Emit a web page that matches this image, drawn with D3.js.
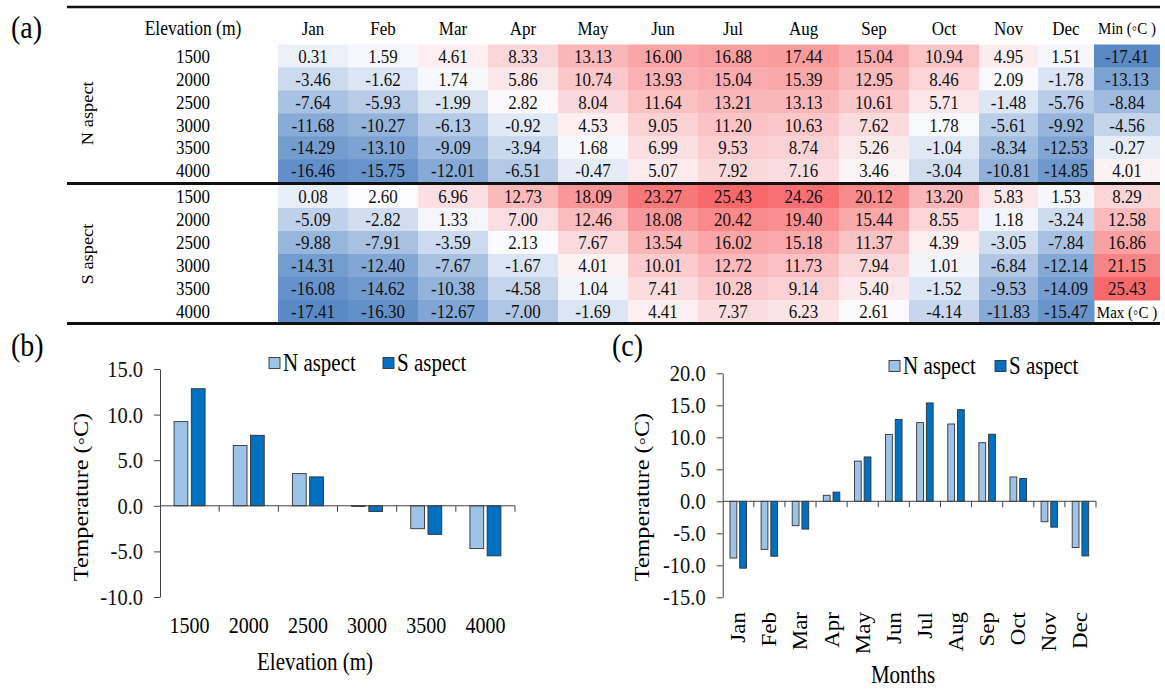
<!DOCTYPE html>
<html>
<head>
<meta charset="utf-8">
<script src="https://cdn.jsdelivr.net/npm/d3@7"></script>
<style>
  body { margin: 0; background: #fff; }
  svg, svg text { font-family: "Liberation Serif", "Times New Roman", serif; }
</style>
</head>
<body>
<div id="chart"></div>
<script>
// table data, (a)
var months = ["Jan","Feb","Mar","Apr","May","Jun","Jul","Aug","Sep","Oct","Nov","Dec"];
var elevations = ["1500","2000","2500","3000","3500","4000"];

var nTable = [
  [0.31, 1.59, 4.61, 8.33, 13.13, 16.00, 16.88, 17.44, 15.04, 10.94, 4.95, 1.51],
  [-3.46, -1.62, 1.74, 5.86, 10.74, 13.93, 15.04, 15.39, 12.95, 8.46, 2.09, -1.78],
  [-7.64, -5.93, -1.99, 2.82, 8.04, 11.64, 13.21, 13.13, 10.61, 5.71, -1.48, -5.76],
  [-11.68, -10.27, -6.13, -0.92, 4.53, 9.05, 11.20, 10.63, 7.62, 1.78, -5.61, -9.92],
  [-14.29, -13.10, -9.09, -3.94, 1.68, 6.99, 9.53, 8.74, 5.26, -1.04, -8.34, -12.53],
  [-16.46, -15.75, -12.01, -6.51, -0.47, 5.07, 7.92, 7.16, 3.46, -3.04, -10.81, -14.85]
];
var sTable = [
  [0.08, 2.60, 6.96, 12.73, 18.09, 23.27, 25.43, 24.26, 20.12, 13.20, 5.83, 1.53],
  [-5.09, -2.82, 1.33, 7.00, 12.46, 18.08, 20.42, 19.40, 15.44, 8.55, 1.18, -3.24],
  [-9.88, -7.91, -3.59, 2.13, 7.67, 13.54, 16.02, 15.18, 11.37, 4.39, -3.05, -7.84],
  [-14.31, -12.40, -7.67, -1.67, 4.01, 10.01, 12.72, 11.73, 7.94, 1.01, -6.84, -12.14],
  [-16.08, -14.62, -10.38, -4.58, 1.04, 7.41, 10.28, 9.14, 5.40, -1.52, -9.53, -14.09],
  [-17.41, -16.30, -12.67, -7.00, -1.69, 4.41, 7.37, 6.23, 2.61, -4.14, -11.83, -15.47]
];
// colour key column
var minKey = [-17.41, -13.13, -8.84, -4.56, -0.27, 4.01];
var maxKey = [8.29, 12.58, 16.86, 21.15, 25.43];

// (b) mean by elevation
var elevN = [9.23, 6.61, 3.53, 0.02, -2.51, -4.69];
var elevS = [12.84, 7.73, 3.17, -0.63, -3.13, -5.49];
// (c) mean by month
var monthN = [-8.87, -7.51, -3.81, 0.94, 6.28, 10.45, 12.30, 12.08, 9.16, 3.80, -3.20, -7.22];
var monthS = [-10.45, -8.58, -4.34, 1.44, 6.93, 12.79, 15.37, 14.32, 10.48, 3.58, -4.04, -8.54];

var W = 1165, H = 691;
var SY = 1.15; // the source figure has slightly tall lettering

var svg = d3.select("#chart").append("svg")
    .attr("width", W)
    .attr("height", H);

// transform for a text at (x,y), optionally turned -90deg
function tf(x, y, rot) {
  return "translate(" + x + "," + y + ")" +
    (rot ? " rotate(-90) scale(" + SY + ",1)" : " scale(1," + SY + ")");
}
function label(g, x, y, txt, size, anchor, rot) {
  return g.append("text")
    .attr("transform", tf(x, y, rot))
    .attr("dy", ".35em")
    .attr("text-anchor", anchor || "middle")
    .style("font-size", size + "px")
    .text(txt);
}

// ---------- (a) table ----------
var allVals = d3.merge(nTable.concat(sTable));
var color = d3.scaleLinear()
  .domain([-17.41, d3.median(allVals), 25.43])
  .range(["#5A8AC6", "#FCFCFF", "#F8696B"]);

var colNames = months.concat(["Min"]);
var colEdges = [278, 348, 418, 488, 558, 628, 698, 768, 839, 909, 979, 1038, 1094, 1160];
var colX = d3.scaleOrdinal().domain(colNames).range(colEdges.slice(0, 13));
function colW(name) {
  var i = colNames.indexOf(name);
  return colEdges[i + 1] - colEdges[i];
}
function colC(name) { return colX(name) + colW(name) / 2; }

var rowN = d3.scaleBand().domain(elevations).range([44.5, 182]);
var rowS = d3.scaleBand().domain(elevations).range([185, 323]);

var tbl = svg.append("g");

label(tbl, 11, 27, "(a)", 28, "start");

// header
label(tbl, 193, 28, "Elevation (m)", 17.5);
tbl.selectAll(".hdr").data(months).enter().append("text")
  .attr("class", "hdr")
  .attr("transform", function(d) { return tf(colC(d), 28); })
  .attr("dy", ".35em")
  .attr("text-anchor", "middle").style("font-size", "17px")
  .text(function(d) { return d; });
label(tbl, colC("Min"), 28, "Min (\u25E6C )", 15);

function drawBlock(table, row, name, keyVals) {
  var g = tbl.append("g");
  var y0 = row.range()[0], y1 = row.range()[1];
  label(g, 87, (y0 + y1) / 2, name, 16, "middle", true);

  g.selectAll(".elev").data(elevations).enter().append("text")
    .attr("transform", function(d) { return tf(193, row(d) + row.bandwidth() / 2); })
    .attr("dy", ".35em").attr("text-anchor", "middle")
    .style("font-size", "17px")
    .text(function(d) { return d; });

  table.forEach(function(vals, i) {
    var e = elevations[i];
    var cells = g.append("g").selectAll("g").data(vals).enter().append("g");
    cells.append("rect")
      .attr("x", function(d, j) { return colX(months[j]); })
      .attr("y", row(e))
      .attr("width", function(d, j) { return colW(months[j]) + 0.5; })
      .attr("height", row.bandwidth() + 0.5)
      .attr("fill", function(d) { return color(d); });
    cells.append("text")
      .attr("transform", function(d, j) {
        return tf(colC(months[j]), row(e) + row.bandwidth() / 2);
      })
      .attr("dy", ".35em").attr("text-anchor", "middle")
      .style("font-size", "17px").attr("fill", "#111")
      .text(function(d) { return d.toFixed(2); });
  });

  // key column
  keyVals.forEach(function(v, i) {
    var e = elevations[i];
    g.append("rect")
      .attr("x", colX("Min")).attr("y", row(e))
      .attr("width", colW("Min")).attr("height", row.bandwidth() + 0.5)
      .attr("fill", color(v));
    label(g, colC("Min"), row(e) + row.bandwidth() / 2, v.toFixed(2), 17)
      .attr("fill", "#111");
  });
}

drawBlock(nTable, rowN, "N aspect", minKey);
drawBlock(sTable, rowS, "S aspect", maxKey);

label(tbl, colC("Min"), rowS("4000") + rowS.bandwidth() / 2, "Max (\u25E6C )", 15);

// rules
[[7, 2.5], [183.5, 3], [323.5, 3]].forEach(function(r) {
  tbl.append("line")
    .attr("x1", 67).attr("x2", 1160)
    .attr("y1", r[0]).attr("y2", r[0])
    .attr("stroke", "#111").attr("stroke-width", r[1]);
});

// ---------- bar panels ----------
var nFill = "#9DC3E6", sFill = "#0070C0";

function barPanel(o) {
  var g = svg.append("g");
  var x = d3.scaleBand().domain(o.cats).range(o.xRange);
  var y = d3.scaleLinear().domain(o.yDomain).range(o.yRange);
  var sub = d3.scaleBand().domain(["N", "S"])
    .range([x.bandwidth() / 2 - o.pair / 2, x.bandwidth() / 2 + o.pair / 2])
    .paddingInner(o.gap);

  // y axis
  var ya = g.append("g")
    .attr("transform", "translate(" + o.xRange[0] + ",0)")
    .call(d3.axisLeft(y).tickValues(o.ticks)
      .tickFormat(function(d) { return d.toFixed(1); })
      .tickSize(6).tickPadding(11).tickSizeOuter(0));
  ya.attr("font-family", null).attr("font-size", null);
  ya.selectAll("path, line").attr("stroke", "#404040");
  ya.selectAll("text")
    .attr("transform", "scale(1," + SY + ")")
    .style("font-size", "20.5px").attr("fill", "#111");

  // bars
  var series = [["N", o.nVals, nFill], ["S", o.sVals, sFill]];
  series.forEach(function(s) {
    g.append("g").selectAll("rect").data(s[1]).enter().append("rect")
      .attr("x", function(d, i) { return x(o.cats[i]) + sub(s[0]); })
      .attr("y", function(d) { return Math.min(y(d), y(0)); })
      .attr("width", sub.bandwidth())
      .attr("height", function(d) { return Math.max(Math.abs(y(d) - y(0)), 0.8); })
      .attr("fill", s[2])
      .attr("stroke", "#333").attr("stroke-width", 0.9);
  });

  // zero line and category ticks
  g.append("line")
    .attr("x1", o.xRange[0]).attr("x2", o.xRange[1])
    .attr("y1", y(0)).attr("y2", y(0))
    .attr("stroke", "#404040");
  g.selectAll(".ct").data(o.cats).enter().append("line")
    .attr("x1", function(d) { return x(d) + x.step(); })
    .attr("x2", function(d) { return x(d) + x.step(); })
    .attr("y1", y(0)).attr("y2", y(0) + 6)
    .attr("stroke", "#404040");

  // category labels
  g.selectAll(".cl").data(o.cats).enter().append("text")
    .attr("transform", function(d) {
      return tf(x(d) + x.bandwidth() / 2, o.labelY, o.rotate);
    })
    .attr("dy", ".35em").attr("text-anchor", o.rotate ? "end" : "middle")
    .style("font-size", "20px")
    .text(function(d) { return d; });

  // titles
  label(g, o.titleX[0], o.titleX[1], o.xTitle, 21);
  label(g, o.yTitle[0], o.yTitle[1], "Temperature (\u25E6C)", 21, "middle", true);
  label(g, o.panel[0], o.panel[1], o.panelLabel, 28, "start");

  // legend
  [["N aspect", nFill, o.legend[0]], ["S aspect", sFill, o.legend[1]]].forEach(function(l) {
    g.append("rect")
      .attr("x", l[2]).attr("y", o.legendY - 5.5)
      .attr("width", 11).attr("height", 11)
      .attr("fill", l[1]).attr("stroke", "#333").attr("stroke-width", 0.9);
    label(g, l[2] + 14, o.legendY, l[0], 21, "start");
  });
}

barPanel({
  cats: elevations, nVals: elevN, sVals: elevS,
  xRange: [160, 515], yDomain: [-10, 15], yRange: [597, 369],
  ticks: [-10, -5, 0, 5, 10, 15],
  pair: 31, gap: 0.2,
  rotate: false, labelY: 625,
  xTitle: "Elevation (m)", titleX: [315, 662],
  yTitle: [81, 497],
  panelLabel: "(b)", panel: [11, 345],
  legend: [269, 383], legendY: 363
});

barPanel({
  cats: months, nVals: monthN, sVals: monthS,
  xRange: [722.7, 1096], yDomain: [-15, 20], yRange: [597.3, 373.3],
  ticks: [-15, -10, -5, 0, 5, 10, 15, 20],
  pair: 16.5, gap: 0.3,
  rotate: true, labelY: 612,
  xTitle: "Months", titleX: [903, 675],
  yTitle: [642, 497],
  panelLabel: "(c)", panel: [612, 345],
  legend: [889, 995], legendY: 366
});
</script>
</body>
</html>
